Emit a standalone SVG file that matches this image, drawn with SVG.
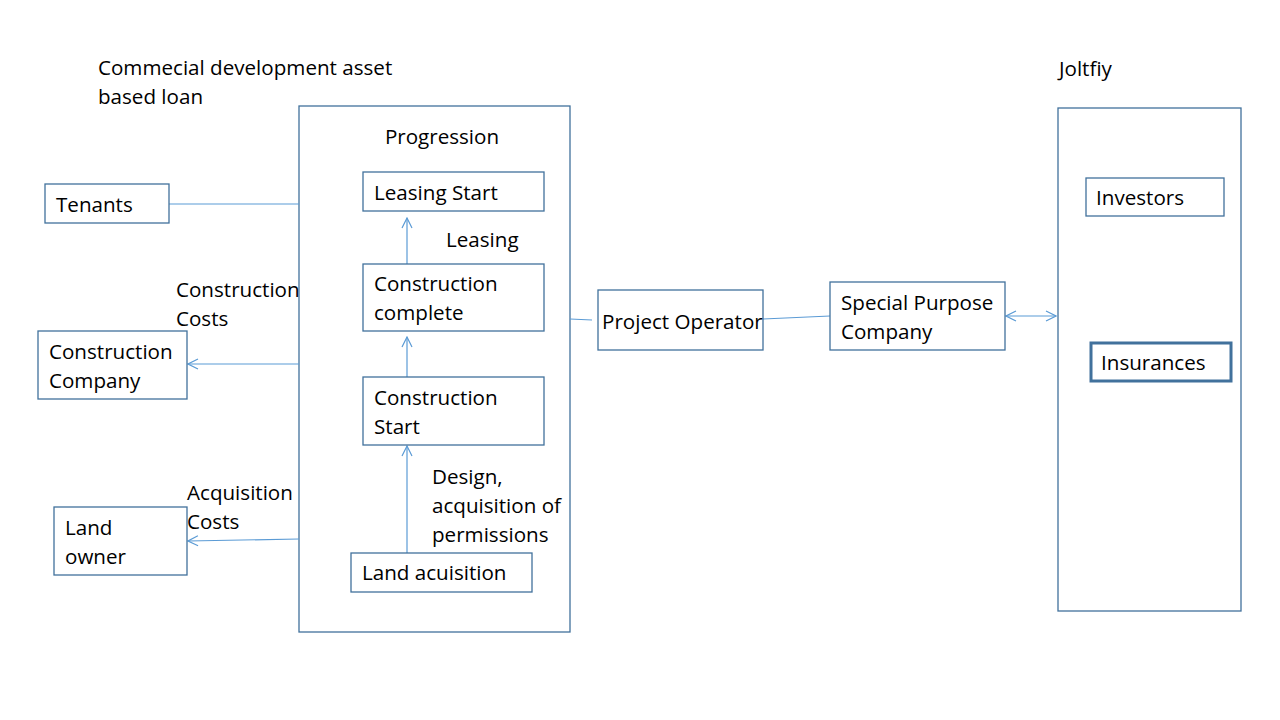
<svg xmlns="http://www.w3.org/2000/svg" width="1280" height="720" viewBox="0 0 1280 720">
<style>
text{font-family:"Open Sans","Noto Sans","Liberation Sans",sans-serif;font-size:20.6px;fill:#000}
.box{fill:#fff;stroke:#41719C;stroke-width:1.3}
.thick{fill:#fff;stroke:#41719C;stroke-width:3}
.con{fill:none;stroke:#5B9BD5;stroke-width:1.2}
</style>
<defs>
<marker id="ah" viewBox="0 0 12 12" refX="11" refY="6" markerWidth="12" markerHeight="12" markerUnits="userSpaceOnUse" orient="auto-start-reverse">
<path d="M1,1 L11,6 L1,11" fill="none" stroke="#5B9BD5" stroke-width="1.2"/>
</marker>
</defs>
<rect width="1280" height="720" fill="#fff"/>
<g id="title"><text x="98" y="75">Commecial development asset</text><text x="98" y="104">based loan</text></g>
<g id="progression"><rect class="box" x="299" y="106" width="271" height="526"/><text x="442" y="144" text-anchor="middle">Progression</text></g>
<g id="joltfiy"><text x="1059" y="76">Joltfiy</text><rect class="box" x="1058" y="108" width="183" height="503"/></g>
<g id="connectors">
<line class="con" x1="407" y1="553" x2="407" y2="446" marker-end="url(#ah)"/>
<line class="con" x1="407" y1="377" x2="407" y2="337" marker-end="url(#ah)"/>
<line class="con" x1="407" y1="264" x2="407" y2="218" marker-end="url(#ah)"/>
<line class="con" x1="169" y1="204" x2="299" y2="204"/>
<line class="con" x1="299" y1="364" x2="188" y2="364" marker-end="url(#ah)"/>
<line class="con" x1="299" y1="539" x2="188" y2="541" marker-end="url(#ah)"/>
<line class="con" x1="570" y1="319" x2="592" y2="320"/>
<line class="con" x1="763" y1="319" x2="830" y2="316"/>
<line class="con" x1="1006" y1="316" x2="1056" y2="316" marker-start="url(#ah)" marker-end="url(#ah)"/>
</g>
<g id="leasing-start"><rect class="box" x="363" y="172" width="181" height="39"/><text x="374" y="200">Leasing Start</text></g>
<g id="label-leasing"><text x="446" y="247">Leasing</text></g>
<g id="construction-complete"><rect class="box" x="363" y="264" width="181" height="67"/><text x="374" y="291">Construction</text><text x="374" y="320">complete</text></g>
<g id="construction-start"><rect class="box" x="363" y="377" width="181" height="68"/><text x="374" y="405">Construction</text><text x="374" y="434">Start</text></g>
<g id="label-design"><text x="432" y="484">Design,</text><text x="432" y="513">acquisition of</text><text x="432" y="542">permissions</text></g>
<g id="land-acquisition"><rect class="box" x="351" y="553" width="181" height="39"/><text x="362" y="580">Land acuisition</text></g>
<g id="tenants"><rect class="box" x="45" y="184" width="124" height="39"/><text x="56" y="212">Tenants</text></g>
<g id="label-construction-costs"><text x="176" y="297">Construction</text><text x="176" y="326">Costs</text></g>
<g id="construction-company"><rect class="box" x="38" y="331" width="149" height="68"/><text x="49" y="359">Construction</text><text x="49" y="388">Company</text></g>
<g id="label-acquisition-costs"><text x="187" y="500">Acquisition</text><text x="187" y="529">Costs</text></g>
<g id="land-owner"><rect class="box" x="54" y="507" width="133" height="68"/><text x="65" y="535">Land</text><text x="65" y="564">owner</text></g>
<g id="project-operator"><rect class="box" x="598" y="290" width="165" height="60"/><text x="602" y="329">Project Operator</text></g>
<g id="spc"><rect class="box" x="830" y="282" width="175" height="68"/><text x="841" y="310">Special Purpose</text><text x="841" y="339">Company</text></g>
<g id="investors"><rect class="box" x="1086" y="178" width="138" height="38"/><text x="1096" y="205">Investors</text></g>
<g id="insurances"><rect class="thick" x="1091" y="343" width="140" height="38"/><text x="1101" y="370">Insurances</text></g>
</svg>
